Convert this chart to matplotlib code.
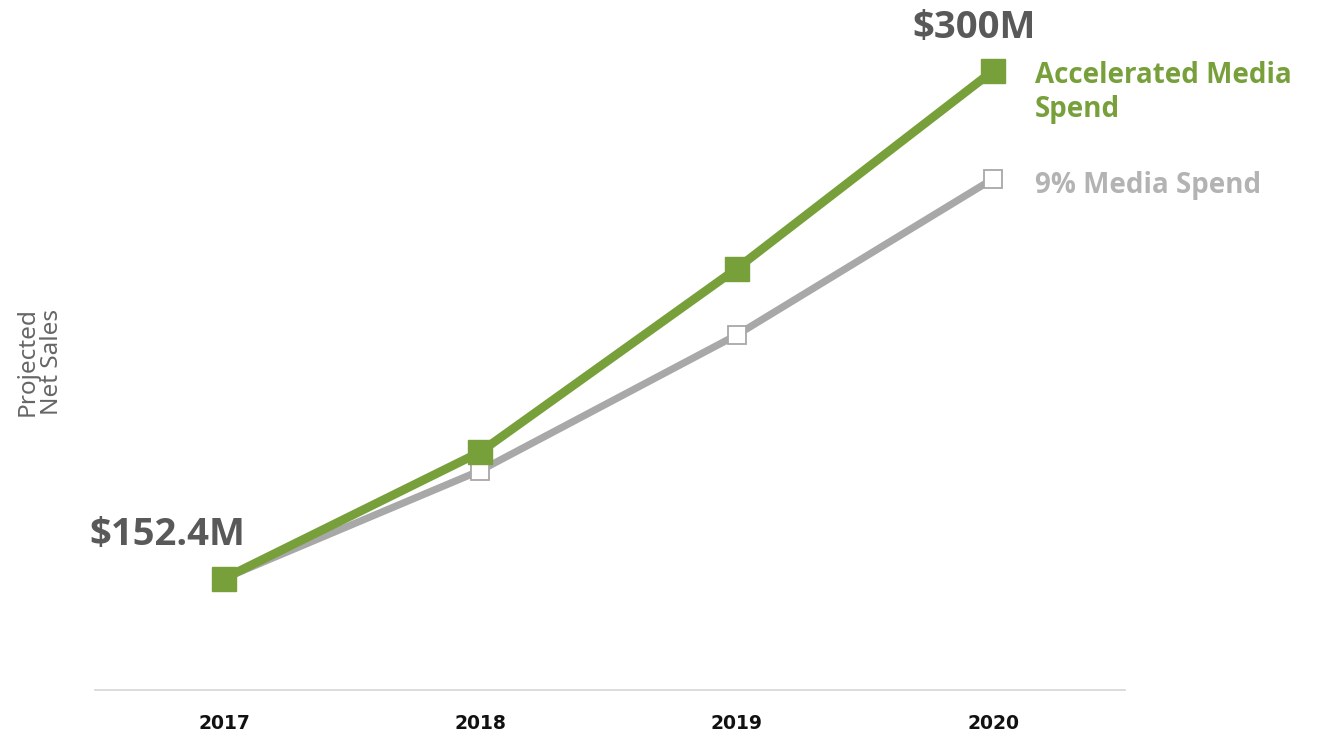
import matplotlib.pyplot as plt

years = [2017, 2018, 2019, 2020]
accelerated = [152.4, 189.2, 242.5, 300.0]
nine_pct = [152.4, 183.8, 223.2, 268.6]

green = '#77a03b'
grey = '#a8a8a8'
label_font = 'Open Sans'

fig = plt.figure(figsize=(13.18, 7.4), dpi=100)
ax = fig.add_axes([0.0721, 0.0676, 0.7815, 0.9324])

ax.plot(years, nine_pct, color=grey, lw=5.2, marker='s', ms=12.5,
        mfc='white', mec=grey, mew=1.3, zorder=2, solid_capstyle='butt')
ax.plot(years, accelerated, color=green, lw=6.3, marker='s', ms=17,
        mfc=green, mec=green, zorder=3, solid_capstyle='butt')

ax.set_xlim(2016.497, 2020.515)
ax.set_ylim(120, 320.6)

for s in ['top', 'right', 'left']:
    ax.spines[s].set_visible(False)
ax.spines['bottom'].set_color('#d9d9d9')
ax.spines['bottom'].set_linewidth(1.3)
ax.set_yticks([])
ax.set_xticks(years)
ax.set_xticklabels([str(y) for y in years], fontsize=13.5, fontweight='bold',
                   color='#111111')
ax.tick_params(axis='x', length=0, pad=17)

# end-point value labels
ax.annotate('$%.1fM' % accelerated[0], (years[0], accelerated[0]),
            xytext=(-41, 31), textcoords='offset points', ha='center', va='center',
            fontsize=27.5, fontweight='bold', color='#595959', family=label_font)
ax.annotate('$%dM' % accelerated[-1], (years[-1], accelerated[-1]),
            xytext=(-14, 31), textcoords='offset points', ha='center', va='center',
            fontsize=27.5, fontweight='bold', color='#595959', family=label_font)

# series labels at the right end
ax.annotate('Accelerated Media\nSpend', (years[-1], accelerated[-1]),
            xytext=(30, -15.5), textcoords='offset points', ha='left', va='center',
            fontsize=20, fontweight='bold', color=green, family=label_font,
            linespacing=1.2, annotation_clip=False)
ax.annotate('9% Media Spend', (years[-1], nine_pct[-1]),
            xytext=(30, -4.5), textcoords='offset points', ha='left', va='center',
            fontsize=20, fontweight='bold', color='#b3b3b3', family=label_font,
            annotation_clip=False)

fig.text(0.03, 0.511, 'Projected\nNet Sales', rotation=90, ha='center', va='center',
         fontsize=17.5, color='#666666', family='Noto Sans', linespacing=1.0)

fig.savefig('out.png', dpi=100)
plt.close()
